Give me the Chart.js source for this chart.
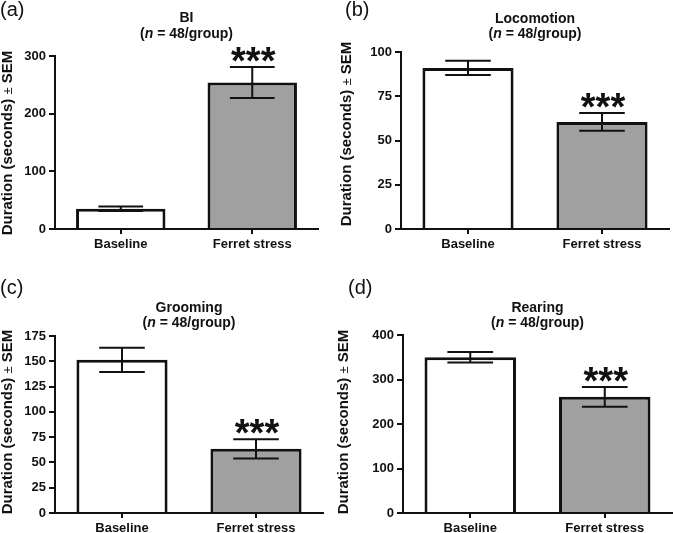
<!DOCTYPE html>
<html>
<head>
  <title>Ferret stress behaviour</title>
  <script src="https://cdn.jsdelivr.net/npm/chart.js"></script>
  <style>
    body { margin: 0; background: #fff; }
    #wrap { position: relative; width: 673px; height: 533px; overflow: hidden; }
    canvas { position: absolute; }
  </style>
</head>
<body>
<div id="wrap">
  <canvas id="chartA" width="336" height="265" style="left:0;top:0"></canvas>
  <canvas id="chartB" width="337" height="265" style="left:336px;top:0"></canvas>
  <canvas id="chartC" width="336" height="268" style="left:0;top:265px"></canvas>
  <canvas id="chartD" width="337" height="268" style="left:336px;top:265px"></canvas>
</div>
<script>
  // data
  const groups = ['Baseline', 'Ferret stress'];
  const behaviours = ['BI', 'Locomotion', 'Grooming', 'Rearing'];
  const panelLetters = ['(a)', '(b)', '(c)', '(d)'];
  const groupSize = 48;
  const significance = ['', '***'];

  const biMean = [35, 254];
  const biSem = [4, 27];
  const locoMean = [91, 60.5];
  const locoSem = [4, 5];
  const groomMean = [151.5, 63.5];
  const groomSem = [12, 9.5];
  const rearMean = [350, 261];
  const rearSem = [12, 22];

  const yMax = [300, 100, 175, 400];
  const yStep = [100, 25, 25, 100];

  const FONT = '"Liberation Sans", Arial, Helvetica, sans-serif';
  const INK = '#111';

  // draw a row of text pieces (each with its own font) centred on cx
  function drawParts(ctx, parts, cx, y) {
    let total = 0;
    parts.forEach(p => { ctx.font = p.font; p.w = ctx.measureText(p.text).width; total += p.w; });
    let x = cx - total / 2;
    ctx.textAlign = 'left';
    parts.forEach(p => { ctx.font = p.font; ctx.fillText(p.text, x, y); x += p.w; });
  }

  // error bars, stars, titles, panel letter and y axis title
  const panelDecor = {
    id: 'panelDecor',
    afterDatasetsDraw(chart, args, opts) {
      const ctx = chart.ctx;
      const y = chart.scales.y;
      const values = chart.data.datasets[0].data;
      ctx.save();
      ctx.strokeStyle = INK;
      ctx.fillStyle = INK;
      ctx.lineWidth = 2;
      chart.getDatasetMeta(0).data.forEach((bar, i) => {
        const top = y.getPixelForValue(values[i] + opts.sem[i]);
        const bot = y.getPixelForValue(values[i] - opts.sem[i]);
        const half = bar.width / 4;
        ctx.beginPath();
        ctx.moveTo(bar.x, top); ctx.lineTo(bar.x, bot);
        ctx.moveTo(bar.x - half, top); ctx.lineTo(bar.x + half, top);
        ctx.moveTo(bar.x - half, bot); ctx.lineTo(bar.x + half, bot);
        ctx.stroke();
        if (opts.stars[i]) {
          ctx.font = 'bold 38px ' + FONT;
          ctx.textAlign = 'center';
          ctx.textBaseline = 'alphabetic';
          const m = ctx.measureText(opts.stars[i]);
          ctx.fillText(opts.stars[i], bar.x + 1, top - 5 - m.actualBoundingBoxDescent);
        }
      });
      ctx.restore();
    },
    afterDraw(chart, args, opts) {
      const ctx = chart.ctx;
      const area = chart.chartArea;
      const cx = (area.left + area.right) / 2;
      ctx.save();
      ctx.fillStyle = INK;
      ctx.textBaseline = 'alphabetic';

      // panel letter
      ctx.font = '20px ' + FONT;
      ctx.textAlign = 'left';
      ctx.fillText(opts.letter, opts.letterPos[0], opts.letterPos[1]);

      // two line title
      ctx.font = 'bold 14px ' + FONT;
      ctx.textAlign = 'center';
      ctx.fillText(opts.title, cx, opts.titleY[0]);
      drawParts(ctx, [
        { text: '(', font: 'bold 14px ' + FONT },
        { text: 'n', font: 'italic bold 14px ' + FONT },
        { text: ' = ' + groupSize + '/group)', font: 'bold 14px ' + FONT }
      ], cx, opts.titleY[1]);

      // y axis title
      ctx.translate(opts.yTitle[0], opts.yTitle[1]);
      ctx.rotate(-Math.PI / 2);
      ctx.textBaseline = 'middle';
      drawParts(ctx, [
        { text: 'Duration (seconds) ', font: 'bold 15px ' + FONT },
        { text: '\u00b1', font: '13px ' + FONT },
        { text: ' SEM', font: 'bold 15px ' + FONT }
      ], 0, 0);
      ctx.restore();
    }
  };

  function makePanel(id, idx, means, sems, layout) {
    const ctx = document.getElementById(id).getContext('2d');
    return new Chart(ctx, {
      type: 'bar',
      data: {
        labels: groups,
        datasets: [{
          data: means,
          backgroundColor: ['#ffffff', '#a0a0a0'],
          borderColor: INK,
          borderWidth: 3,
          borderSkipped: 'start', // the x axis closes the bar
          barPercentage: 0.68,
          categoryPercentage: 1
        }]
      },
      options: {
        responsive: false,
        animation: false,
        layout: { padding: { left: 0, top: layout.top, right: layout.right, bottom: 0 } },
        plugins: {
          legend: { display: false },
          tooltip: { enabled: false },
          panelDecor: {
            sem: sems,
            stars: significance,
            title: behaviours[idx],
            letter: panelLetters[idx],
            letterPos: layout.letterPos,
            titleY: layout.titleY,
            yTitle: layout.yTitle
          }
        },
        scales: {
          x: {
            afterFit: s => { s.height = layout.xHeight; },
            border: { display: true, color: INK, width: 2 },
            grid: { offset: false, drawOnChartArea: false, color: INK, lineWidth: 2, tickLength: 5 },
            ticks: { color: INK, padding: 3, font: { family: FONT, size: 13, weight: 'bold' } }
          },
          y: {
            min: 0,
            max: yMax[idx],
            afterFit: s => { s.width = layout.yWidth; },
            border: { display: true, color: INK, width: 2 },
            grid: { drawOnChartArea: false, color: INK, lineWidth: 2, tickLength: 6 },
            ticks: { stepSize: yStep[idx], color: INK, padding: 3, font: { family: FONT, size: 13, weight: 'bold' } }
          }
        }
      },
      plugins: [panelDecor]
    });
  }

  makePanel('chartA', 0, biMean, biSem,
    { top: 56, right: 18, yWidth: 55, xHeight: 36, letterPos: [0, 16], titleY: [22, 38], yTitle: [8, 143] });
  makePanel('chartB', 1, locoMean, locoSem,
    { top: 52, right: 4, yWidth: 65, xHeight: 36, letterPos: [9, 16], titleY: [23, 38], yTitle: [11, 134] });
  makePanel('chartC', 2, groomMean, groomSem,
    { top: 71, right: 13, yWidth: 55, xHeight: 20, letterPos: [0, 29], titleY: [47, 62], yTitle: [8, 157] });
  makePanel('chartD', 3, rearMean, rearSem,
    { top: 70, right: 1, yWidth: 67, xHeight: 20, letterPos: [12, 29], titleY: [47, 62], yTitle: [8, 157] });
</script>
</body>
</html>
